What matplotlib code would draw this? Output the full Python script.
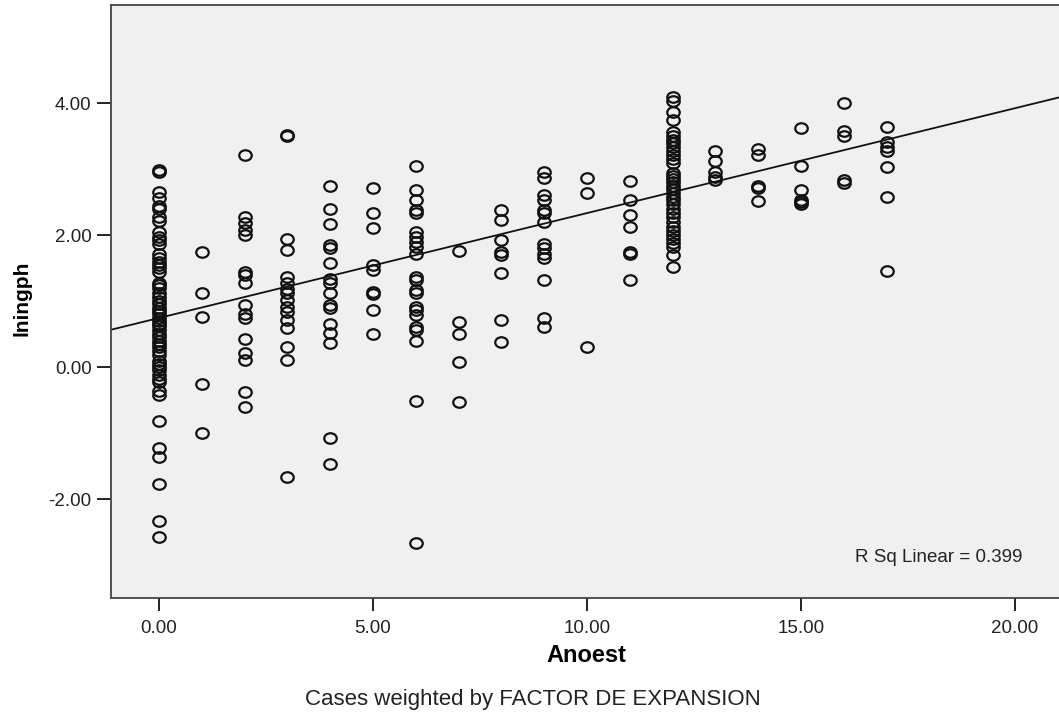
import numpy as np
import matplotlib
matplotlib.use("Agg")
import matplotlib.pyplot as plt
from matplotlib.path import Path

plt.rcParams["font.family"] = ["Liberation Sans", "DejaVu Sans"]

# ---------------------------------------------------------------------------
# Data (Anoest vs lningph)
# ---------------------------------------------------------------------------
y_at = {
    0: [2.99, 2.96, 2.66, 2.57, 2.45, 2.40, 2.27, 2.22, 2.05, 1.98, 1.93, 1.87,
        1.72, 1.66, 1.60, 1.55, 1.50, 1.44, 1.28, 1.24, 1.20, 1.12, 1.06, 1.00,
        0.95, 0.90, 0.85, 0.80, 0.75, 0.70, 0.66, 0.62, 0.56, 0.50, 0.46, 0.40,
        0.35, 0.30, 0.25, 0.18, 0.10, 0.05, 0.00, -0.05, -0.12, -0.18, -0.22,
        -0.36, -0.42, -0.82, -1.23, -1.36, -1.77, -2.34, -2.57],
    1: [1.74, 1.13, 0.76, -0.26, -1.00],
    2: [3.21, 2.28, 2.18, 2.08, 2.00, 1.44, 1.39, 1.27, 0.94, 0.81, 0.74, 0.43,
        0.21, 0.11, -0.37, -0.60],
    3: [3.52, 3.50, 1.95, 1.77, 1.37, 1.27, 1.19, 1.12, 1.02, 0.91, 0.84, 0.71,
        0.59, 0.31, 0.11, -1.66],
    4: [2.74, 2.40, 2.17, 1.85, 1.80, 1.58, 1.34, 1.27, 1.12, 0.94, 0.89, 0.66,
        0.51, 0.36, -1.07, -1.47],
    5: [2.71, 2.34, 2.11, 1.55, 1.47, 1.14, 1.11, 0.86, 0.50],
    6: [3.05, 2.69, 2.53, 2.38, 2.33, 2.05, 1.97, 1.90, 1.82, 1.72, 1.37, 1.32,
        1.17, 1.12, 0.91, 0.86, 0.79, 0.61, 0.56, 0.39, -0.51, -2.67],
    7: [1.76, 0.69, 0.50, 0.08, -0.53],
    8: [2.38, 2.23, 1.92, 1.75, 1.70, 1.42, 0.72, 0.38],
    9: [2.96, 2.86, 2.61, 2.53, 2.38, 2.33, 2.20, 1.87, 1.80, 1.72, 1.65, 1.32,
        0.74, 0.61],
    10: [2.86, 2.64, 0.31],
    11: [2.82, 2.53, 2.30, 2.12, 1.75, 1.71, 1.32],
    12: [4.10, 4.03, 3.87, 3.75, 3.56, 3.50, 3.45, 3.40, 3.34, 3.28, 3.22, 3.16,
         3.10, 2.95, 2.90, 2.85, 2.80, 2.75, 2.70, 2.64, 2.58, 2.53, 2.48, 2.40,
         2.33, 2.27, 2.20, 2.13, 2.06, 2.00, 1.94, 1.88, 1.82, 1.70, 1.52],
    13: [3.27, 3.12, 2.96, 2.88, 2.84],
    14: [3.31, 3.21, 2.74, 2.71, 2.52],
    15: [3.62, 3.05, 2.69, 2.53, 2.50, 2.48],
    16: [4.01, 3.58, 3.50, 2.83, 2.79],
    17: [3.64, 3.41, 3.34, 3.28, 3.03, 2.58, 1.45],
}
fit_intercept = 0.745
fit_slope = 0.159
r_sq = 0.399

x_ticks = [0, 5, 10, 15, 20]
y_ticks = [-2, 0, 2, 4]

anoest = np.concatenate([[k] * len(v) for k, v in y_at.items()])
lningph = np.concatenate([v for v in y_at.values()])

# SPSS circles come out slightly wider than tall
circ = Path.unit_circle()
ellipse = Path(circ.vertices * np.array([1.0, 0.84]), circ.codes)

W, H = 1059, 717
fig = plt.figure(figsize=(W / 100, H / 100), dpi=100)
ax = fig.add_axes([111 / W, (H - 598) / H, (W - 111) / W, (598 - 5) / H])
ax.set_facecolor("#f0f0f0")

ax.plot(anoest, lningph, linestyle="none", marker=ellipse, markersize=9,
        markerfacecolor="none", markeredgecolor="#111111", markeredgewidth=1.6)

ax.set_xlim(-1.12, 21.03)
ax.set_ylim(-3.5, 5.49)
xs = np.array(ax.get_xlim())
ax.plot(xs, fit_intercept + fit_slope * xs, color="#111111", linewidth=1.3)

ax.set_xticks(x_ticks)
ax.set_yticks(y_ticks)
ax.set_xticklabels([f"{t:.2f}" for t in x_ticks])
ax.set_yticklabels([f"{t:.2f}" for t in y_ticks])
ax.tick_params(axis="x", length=9, width=1.4, pad=7, labelsize=13.5,
               color="#222222", labelcolor="#222222")
ax.tick_params(axis="y", length=10, width=1.4, pad=4, labelsize=13.5,
               color="#222222", labelcolor="#222222")

for side in ["left", "top", "bottom"]:
    ax.spines[side].set_color("#444444")
    ax.spines[side].set_linewidth(1.3)
ax.spines["right"].set_visible(False)

ax.text(0.961, 0.069, f"R Sq Linear = {r_sq:.3f}", transform=ax.transAxes,
        ha="right", va="center", fontsize=13.5, color="#222222")

fig.text(586 / W, 1 - 655 / H, "Anoest", ha="center", va="center",
         fontsize=17, fontweight="bold",
         family=["Liberation Sans Narrow", "Liberation Sans"])
fig.text(22 / W, 1 - 298 / H, "lningph", ha="center", va="center",
         rotation=90, fontsize=15, fontweight="bold",
         family=["Liberation Sans Narrow", "Liberation Sans"])
fig.text(533 / W, 1 - 700 / H, "Cases weighted by FACTOR DE EXPANSION",
         ha="center", va="center", fontsize=16, color="#222222")

fig.savefig("out.png", dpi=100)
